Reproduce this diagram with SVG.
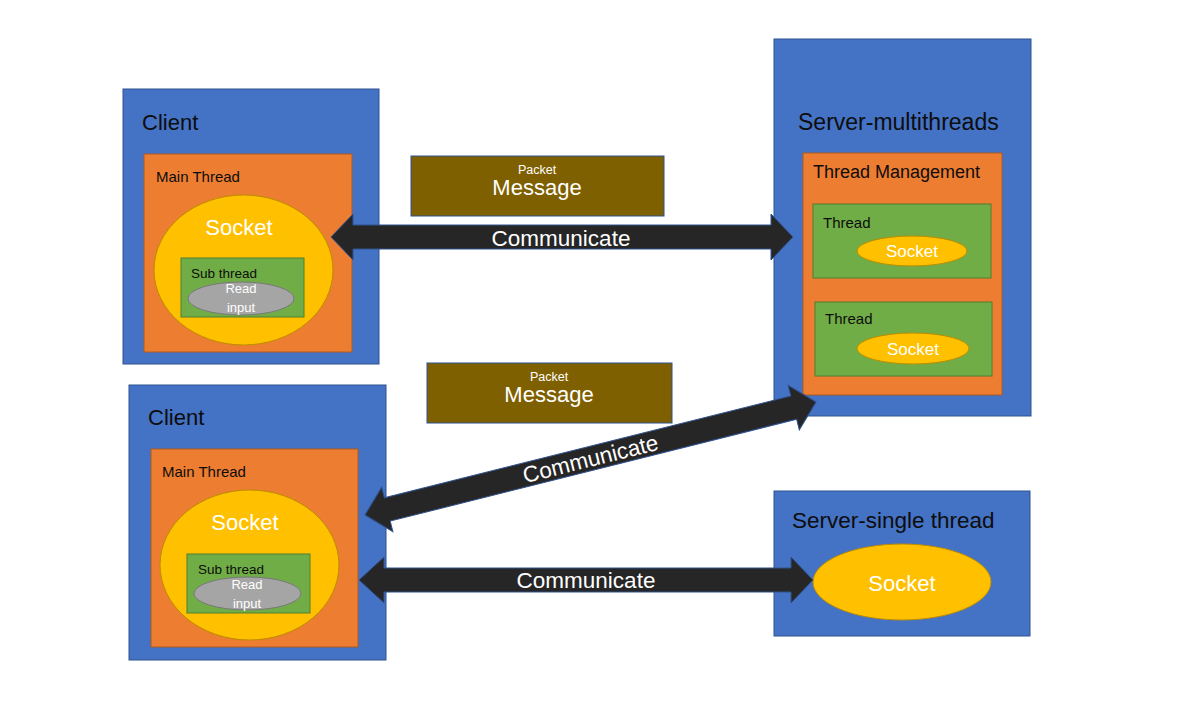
<svg xmlns="http://www.w3.org/2000/svg" width="1185" height="704" viewBox="0 0 1185 704">
<style>
text{font-family:"Liberation Sans",Arial,sans-serif}
.box{fill:#4472C4;stroke:#2F528F;stroke-width:1}
.main{fill:#ED7D31;stroke:#AE5A21;stroke-width:1}
.green{fill:#70AD47;stroke:#507E32;stroke-width:1}
.sock{fill:#FFC000;stroke:#BC8C00;stroke-width:1}
.gray{fill:#A5A5A5;stroke:#787878;stroke-width:1}
.msg{fill:#7F6000;stroke:#2F528F;stroke-width:1}
.arrow{fill:#262626;stroke:#2F528F;stroke-width:1}
.dark{fill:#0D0D0D}
.white{fill:#FFFFFF}
.mid{text-anchor:middle}
</style>
<rect width="1185" height="704" fill="#FFFFFF"/>

<g id="client-top">
  <rect class="box" x="123" y="89" width="256" height="275"/>
  <text class="dark" x="142" y="130" font-size="22">Client</text>
  <rect class="main" x="144" y="154" width="208" height="198"/>
  <text class="dark" x="156" y="182" font-size="15">Main Thread</text>
  <ellipse class="sock" cx="243.5" cy="270" rx="89.5" ry="75"/>
  <text class="white mid" x="239" y="235" font-size="22">Socket</text>
  <rect class="green" x="181" y="258" width="123" height="59"/>
  <text class="dark" x="191" y="278" font-size="13.5">Sub thread</text>
  <ellipse class="gray" cx="241" cy="298.5" rx="53" ry="16.5"/>
  <text class="white mid" x="241" y="293" font-size="13">Read</text>
  <text class="white mid" x="241" y="312" font-size="13">input</text>
</g>

<g id="client-bottom">
  <rect class="box" x="129" y="385" width="257" height="275"/>
  <text class="dark" x="148" y="425" font-size="22">Client</text>
  <rect class="main" x="151" y="449" width="207" height="198"/>
  <text class="dark" x="162" y="477" font-size="15">Main Thread</text>
  <ellipse class="sock" cx="249.5" cy="565" rx="89.5" ry="75"/>
  <text class="white mid" x="245" y="530" font-size="22">Socket</text>
  <rect class="green" x="187" y="554" width="123" height="59"/>
  <text class="dark" x="198" y="574" font-size="13.5">Sub thread</text>
  <ellipse class="gray" cx="247.5" cy="593.5" rx="53.5" ry="16.5"/>
  <text class="white mid" x="247" y="589" font-size="13">Read</text>
  <text class="white mid" x="247" y="608" font-size="13">input</text>
</g>

<g id="server-multithreads">
  <rect class="box" x="774" y="39" width="257" height="377"/>
  <text class="dark" x="798" y="130" font-size="23">Server-multithreads</text>
  <rect class="main" x="803" y="153" width="199" height="242"/>
  <text class="dark" x="813" y="178" font-size="18">Thread Management</text>
  <g id="thread-1">
    <rect class="green" x="813" y="204" width="178" height="74"/>
    <text class="dark" x="823" y="228" font-size="15">Thread</text>
    <ellipse class="sock" cx="912" cy="251" rx="55" ry="15"/>
    <text class="white mid" x="912" y="257" font-size="17">Socket</text>
  </g>
  <g id="thread-2">
    <rect class="green" x="815" y="302" width="177" height="74"/>
    <text class="dark" x="825" y="324" font-size="15">Thread</text>
    <ellipse class="sock" cx="913" cy="348.5" rx="56" ry="15.5"/>
    <text class="white mid" x="913" y="355" font-size="17">Socket</text>
  </g>
</g>

<g id="server-single">
  <rect class="box" x="774" y="491" width="256" height="145"/>
  <text class="dark" x="792" y="528" font-size="22.5">Server-single thread</text>
  <ellipse class="sock" cx="902" cy="582" rx="89" ry="38"/>
  <text class="white mid" x="902" y="591" font-size="22">Socket</text>
</g>

<g id="message-top">
  <rect class="msg" x="411" y="156" width="253" height="60"/>
  <text class="white mid" x="537" y="174" font-size="12.5">Packet</text>
  <text class="white mid" x="537" y="195" font-size="22">Message</text>
</g>

<g id="message-bottom">
  <rect class="msg" x="427" y="363" width="245" height="60"/>
  <text class="white mid" x="549" y="381" font-size="12.5">Packet</text>
  <text class="white mid" x="549" y="402" font-size="22">Message</text>
</g>

<g id="connectors">
  <g id="conn-top">
    <path class="arrow" d="M331,237 L353,214 L353,225 L771,225 L771,214 L793,237 L771,260 L771,249 L353,249 L353,260 Z"/>
    <text class="white mid" x="561" y="246" font-size="22.5">Communicate</text>
  </g>
  <g id="conn-diagonal" transform="translate(590.5,458.5) rotate(-14.07)">
    <path class="arrow" d="M-232.5,0 L-209.5,-23 L-209.5,-12 L209.5,-12 L209.5,-23 L232.5,0 L209.5,23 L209.5,12 L-209.5,12 L-209.5,23 Z"/>
    <text class="white mid" x="0" y="8" font-size="22.5">Communicate</text>
  </g>
  <g id="conn-bottom">
    <path class="arrow" d="M359,580 L384,557 L384,568 L791,568 L791,557 L813,580 L791,603 L791,592 L384,592 L384,603 Z"/>
    <text class="white mid" x="586" y="588" font-size="22.5">Communicate</text>
  </g>
</g>
</svg>
